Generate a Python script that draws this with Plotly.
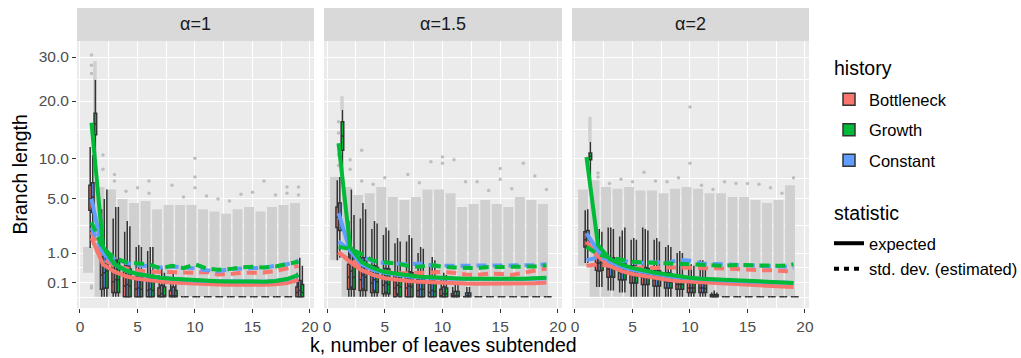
import numpy as np
import plotly.graph_objects as go

# ---------------- data ----------------
K = list(range(1, 20))
facet_labels = ["α=1", "α=1.5", "α=2"]
histories = ["Bottleneck", "Constant", "Growth"]          # dodge / drawing order
legend_order = ["Bottleneck", "Growth", "Constant"]        # legend order
hist_colors = ["#F8766D", "#619CFF", "#00BA38"]
y_tick_vals = [0.1, 1.0, 5.0, 10.0, 20.0, 30.0]
y_tick_text = ["0.1", "1.0", "5.0", "10.0", "20.0", "30.0"]
x_tick_vals = [0, 5, 10, 15, 20]
x_minor_vals = [2.5, 7.5, 12.5, 17.5]

# ---- panel alpha = 1 : boxplot statistics (branch length units) ----
bott1_lo  = [1.24, 0, 0, 0, 0, 0, 0, 0, 0, 0, 0, 0, 0, 0, 0, 0, 0, 0, 0]
bott1_q1  = [3.9, 0.03, 0.01, 0, 0, 0, 0, 0, 0, 0, 0, 0, 0, 0, 0, 0, 0, 0, 0]
bott1_med = [5.0, 0.25, 0.12, 0.06, 0.03, 0.02, 0, 0, 0, 0, 0, 0, 0, 0, 0, 0, 0, 0, 0.01]
bott1_q3  = [6.5, 0.8, 0.55, 0.35, 0.2, 0.18, 0.04, 0.02, 0, 0, 0, 0, 0, 0, 0, 0, 0, 0, 0.05]
bott1_hi  = [11.7, 4.0, 3.2, 2.2, 1.3, 1.1, 0.25, 0.12, 0, 0, 0, 0, 0, 0, 0, 0, 0, 0, 0.3]
cons1_lo  = [1.4, 0, 0, 0, 0, 0, 0, 0, 0, 0, 0, 0, 0, 0, 0, 0, 0, 0, 0]
cons1_q1  = [3.7, 0.04, 0.01, 0, 0, 0, 0, 0, 0, 0, 0, 0, 0, 0, 0, 0, 0, 0, 0]
cons1_med = [5.2, 0.3, 0.15, 0.08, 0.04, 0.03, 0.005, 0, 0, 0, 0, 0, 0, 0, 0, 0, 0, 0, 0.02]
cons1_q3  = [6.8, 1.0, 0.7, 0.5, 0.25, 0.22, 0.07, 0.05, 0, 0, 0, 0, 0, 0, 0, 0, 0, 0, 0.14]
cons1_hi  = [10.5, 5.0, 4.2, 3.0, 1.4, 1.3, 0.45, 0.3, 0, 0, 0, 0, 0, 0, 0, 0, 0, 0, 0.8]
grow1_lo  = [10.2, 0, 0, 0, 0, 0, 0, 0, 0, 0, 0, 0, 0, 0, 0, 0, 0, 0, 0]
grow1_q1  = [13.7, 0.04, 0.01, 0, 0, 0, 0, 0, 0, 0, 0, 0, 0, 0, 0, 0, 0, 0, 0]
grow1_med = [15.6, 0.35, 0.15, 0.06, 0.03, 0.02, 0, 0, 0, 0, 0, 0, 0, 0, 0, 0, 0, 0, 0.01]
grow1_q3  = [17.6, 1.1, 0.7, 0.4, 0.2, 0.2, 0.05, 0.02, 0, 0, 0, 0, 0, 0, 0, 0, 0, 0, 0.08]
grow1_hi  = [24.5, 6.0, 4.2, 2.6, 1.3, 1.3, 0.3, 0.15, 0, 0, 0, 0, 0, 0, 0, 0, 0, 0, 0.5]
# expected and estimated std. dev.
bott1_exp = [1.8, 0.55, 0.33, 0.22, 0.17, 0.14, 0.12, 0.105, 0.095, 0.088, 0.082, 0.078, 0.075, 0.073, 0.073, 0.075, 0.082, 0.1, 0.15]
cons1_exp = [5.0, 1.0, 0.55, 0.36, 0.27, 0.22, 0.19, 0.17, 0.15, 0.14, 0.13, 0.125, 0.12, 0.115, 0.115, 0.12, 0.13, 0.16, 0.24]
grow1_exp = [15.8, 1.3, 0.55, 0.36, 0.27, 0.22, 0.19, 0.17, 0.155, 0.145, 0.135, 0.128, 0.122, 0.118, 0.117, 0.12, 0.132, 0.165, 0.25]
bott1_sd  = [2.2, 0.75, 0.5, 0.42, 0.36, 0.33, 0.32, 0.3, 0.31, 0.3, 0.32, 0.26, 0.27, 0.3, 0.3, 0.31, 0.35, 0.42, 0.5]
cons1_sd  = [2.5, 1.0, 0.75, 0.6, 0.52, 0.48, 0.45, 0.48, 0.46, 0.42, 0.37, 0.34, 0.4, 0.42, 0.43, 0.44, 0.5, 0.55, 0.68]
grow1_sd  = [2.9, 1.2, 0.8, 0.62, 0.58, 0.55, 0.42, 0.5, 0.43, 0.55, 0.42, 0.38, 0.4, 0.45, 0.47, 0.45, 0.48, 0.57, 0.64]
# outlier clouds (dense ranges), growth-only clouds at k=1, and isolated outliers
cloud1_k  = [1, 2, 3, 4, 5, 6, 7, 8, 9, 10, 11, 12, 13, 14, 15, 16, 17, 18, 19]
cloud1_lo = [0.3, 0, 0, 0, 0, 0, 0, 0, 0, 0, 0, 0, 0, 0, 0, 0, 0, 0, 0]
cloud1_hi = [1.3, 6.3, 6.0, 5.0, 4.6, 4.8, 4.0, 4.4, 4.4, 4.4, 4.0, 3.8, 3.6, 4.0, 4.2, 3.8, 4.2, 4.4, 4.6]
gcloud1_k, gcloud1_lo, gcloud1_hi = [1], [16.0], [29.0]
out1_k = [1, 1, 1, 1, 1, 2, 2, 3, 3, 4, 5, 6, 6, 8, 9, 10, 10, 10, 11, 12, 13, 14, 15, 16, 17, 18, 18, 19, 19]
out1_v = [30.5, 28.0, 26.0, 0.06, 0.04, 10.5, 8.5, 7.8, 7.0, 5.8, 6.2, 7.0, 5.6, 6.5, 5.2, 10.0, 7.5, 6.2, 5.3, 5.0, 4.8, 5.5, 5.7, 7.0, 5.4, 6.3, 5.6, 6.3, 5.4]

# ---- panel alpha = 1.5 ----
bott2_lo  = [0.7, 0, 0, 0, 0, 0, 0, 0, 0, 0, 0, 0, 0, 0, 0, 0, 0, 0, 0]
bott2_q1  = [2.5, 0.03, 0.02, 0.01, 0.005, 0, 0, 0, 0, 0, 0, 0, 0, 0, 0, 0, 0, 0, 0]
bott2_med = [3.3, 0.2, 0.15, 0.1, 0.07, 0.04, 0.04, 0.02, 0.01, 0, 0, 0, 0, 0, 0, 0, 0, 0, 0]
bott2_q3  = [4.2, 0.55, 0.55, 0.4, 0.35, 0.25, 0.27, 0.15, 0.09, 0.03, 0.005, 0, 0, 0, 0, 0, 0, 0, 0]
bott2_hi  = [7.1, 3.0, 3.2, 2.4, 2.0, 1.5, 1.6, 1.0, 0.6, 0.2, 0.05, 0, 0, 0, 0, 0, 0, 0, 0]
cons2_lo  = [0.8, 0, 0, 0, 0, 0, 0, 0, 0, 0, 0, 0, 0, 0, 0, 0, 0, 0, 0]
cons2_q1  = [2.3, 0.05, 0.03, 0.02, 0.01, 0.005, 0, 0, 0, 0, 0, 0, 0, 0, 0, 0, 0, 0, 0]
cons2_med = [3.4, 0.35, 0.25, 0.15, 0.1, 0.07, 0.06, 0.03, 0.02, 0.005, 0, 0, 0, 0, 0, 0, 0, 0, 0]
cons2_q3  = [4.6, 1.0, 0.8, 0.5, 0.42, 0.3, 0.33, 0.2, 0.13, 0.05, 0.015, 0.008, 0, 0, 0, 0, 0, 0, 0]
cons2_hi  = [7.5, 6.0, 4.6, 3.0, 2.5, 1.8, 2.0, 1.3, 0.83, 0.3, 0.1, 0.05, 0, 0, 0, 0, 0, 0, 0]
grow2_lo  = [7.0, 0, 0, 0, 0, 0, 0, 0, 0, 0, 0, 0, 0, 0, 0, 0, 0, 0, 0]
grow2_q1  = [11.2, 0.03, 0.02, 0.01, 0.005, 0, 0, 0, 0, 0, 0, 0, 0, 0, 0, 0, 0, 0, 0]
grow2_med = [13.5, 0.2, 0.2, 0.12, 0.08, 0.05, 0.05, 0.03, 0.015, 0.005, 0, 0, 0, 0, 0, 0, 0, 0, 0]
grow2_q3  = [16.0, 0.6, 0.7, 0.45, 0.4, 0.27, 0.3, 0.18, 0.11, 0.04, 0.015, 0.008, 0, 0, 0, 0, 0, 0, 0]
grow2_hi  = [18.2, 3.5, 4.0, 2.8, 2.3, 1.6, 1.8, 1.2, 0.7, 0.25, 0.1, 0.05, 0, 0, 0, 0, 0, 0, 0]
bott2_exp = [1.05, 0.63, 0.37, 0.25, 0.18, 0.15, 0.13, 0.12, 0.11, 0.1, 0.095, 0.092, 0.09, 0.09, 0.09, 0.09, 0.092, 0.097, 0.105]
cons2_exp = [3.65, 1.1, 0.55, 0.38, 0.3, 0.25, 0.22, 0.2, 0.185, 0.175, 0.168, 0.163, 0.16, 0.158, 0.158, 0.16, 0.163, 0.17, 0.18]
grow2_exp = [12.3, 1.3, 0.63, 0.43, 0.32, 0.27, 0.24, 0.21, 0.195, 0.185, 0.178, 0.172, 0.168, 0.165, 0.165, 0.166, 0.17, 0.178, 0.19]
bott2_sd  = [1.0, 0.7, 0.5, 0.38, 0.33, 0.29, 0.29, 0.3, 0.29, 0.32, 0.3, 0.26, 0.25, 0.28, 0.27, 0.25, 0.3, 0.35, 0.42]
cons2_sd  = [1.6, 1.1, 0.85, 0.65, 0.6, 0.56, 0.55, 0.58, 0.52, 0.5, 0.5, 0.5, 0.5, 0.5, 0.52, 0.5, 0.5, 0.52, 0.55]
grow2_sd  = [1.3, 1.2, 0.95, 0.68, 0.62, 0.58, 0.5, 0.47, 0.53, 0.47, 0.45, 0.43, 0.43, 0.46, 0.46, 0.45, 0.45, 0.48, 0.52]
cloud2_k  = [1, 2, 3, 4, 5, 6, 7, 8, 9, 10, 11, 12, 13, 14, 15, 16, 17, 18, 19]
cloud2_lo = [0.7, 0, 0, 0, 0, 0, 0, 0, 0, 0, 0, 0, 0, 0, 0, 0, 0, 0, 0]
cloud2_hi = [7.5, 6.3, 5.4, 5.6, 6.3, 5.2, 4.9, 5.2, 6.0, 6.0, 5.6, 4.2, 4.5, 4.9, 4.5, 4.2, 5.2, 4.9, 4.5]
gcloud2_k, gcloud2_lo, gcloud2_hi = [1], [18.2], [21.0]
out2_k = [1, 1, 1, 1, 1, 2, 2, 3, 3, 4, 5, 7, 8, 9, 10, 10, 11, 12, 13, 14, 15, 15, 16, 17, 18, 19]
out2_v = [9.0, 10.5, 12.0, 14.0, 16.0, 9.8, 8.5, 11.2, 7.0, 6.6, 7.4, 7.8, 6.8, 9.5, 10.2, 9.3, 9.8, 6.9, 6.9, 5.9, 8.6, 7.2, 6.1, 9.3, 7.6, 6.0]

# ---- panel alpha = 2 ----
bott3_lo  = [0.6, 0.05, 0.02, 0.01, 0, 0, 0, 0, 0, 0, 0, 0, 0, 0, 0, 0, 0, 0, 0]
bott3_q1  = [1.3, 0.37, 0.2, 0.15, 0.1, 0.08, 0.06, 0.04, 0.03, 0.01, 0.01, 0, 0, 0, 0, 0, 0, 0, 0]
bott3_med = [1.7, 0.6, 0.4, 0.3, 0.25, 0.2, 0.15, 0.12, 0.08, 0.04, 0.04, 0, 0, 0, 0, 0, 0, 0, 0]
bott3_q3  = [2.2, 1.0, 0.83, 0.6, 0.5, 0.45, 0.35, 0.3, 0.2, 0.1, 0.12, 0.002, 0, 0, 0, 0, 0, 0, 0]
bott3_hi  = [3.9, 2.3, 2.5, 1.9, 1.7, 2.5, 1.7, 1.3, 1.0, 0.5, 0.7, 0.01, 0, 0, 0, 0, 0, 0, 0]
cons3_lo  = [0.6, 0.05, 0.02, 0.01, 0, 0, 0, 0, 0, 0, 0, 0, 0, 0, 0, 0, 0, 0, 0]
cons3_q1  = [1.35, 0.35, 0.22, 0.15, 0.1, 0.08, 0.06, 0.04, 0.03, 0.01, 0.01, 0, 0, 0, 0, 0, 0, 0, 0]
cons3_med = [1.8, 0.6, 0.45, 0.32, 0.25, 0.2, 0.16, 0.12, 0.08, 0.04, 0.04, 0, 0, 0, 0, 0, 0, 0, 0]
cons3_q3  = [2.3, 1.0, 0.8, 0.65, 0.5, 0.45, 0.38, 0.3, 0.22, 0.12, 0.12, 0.003, 0, 0, 0, 0, 0, 0, 0]
cons3_hi  = [4.0, 2.4, 2.5, 2.3, 1.8, 2.4, 1.8, 1.4, 1.1, 0.55, 0.7, 0.02, 0, 0, 0, 0, 0, 0, 0]
grow3_lo  = [6.3, 0.05, 0.02, 0.01, 0, 0, 0, 0, 0, 0, 0, 0, 0, 0, 0, 0, 0, 0, 0]
grow3_q1  = [9.8, 0.37, 0.2, 0.15, 0.1, 0.08, 0.06, 0.04, 0.03, 0.01, 0.01, 0, 0, 0, 0, 0, 0, 0, 0]
grow3_med = [10.3, 0.62, 0.42, 0.3, 0.22, 0.18, 0.15, 0.11, 0.08, 0.04, 0.035, 0, 0, 0, 0, 0, 0, 0, 0]
grow3_q3  = [10.8, 1.0, 0.8, 0.6, 0.45, 0.42, 0.35, 0.28, 0.2, 0.1, 0.1, 0.002, 0, 0, 0, 0, 0, 0, 0]
grow3_hi  = [12.5, 2.2, 2.4, 2.5, 1.7, 2.3, 1.6, 1.3, 1.0, 0.5, 0.6, 0.01, 0, 0, 0, 0, 0, 0, 0]
bott3_exp = [1.58, 0.85, 0.5, 0.35, 0.27, 0.22, 0.18, 0.15, 0.13, 0.12, 0.1, 0.09, 0.08, 0.075, 0.07, 0.065, 0.06, 0.055, 0.05]
cons3_exp = [2.1, 1.1, 0.65, 0.48, 0.38, 0.32, 0.27, 0.23, 0.2, 0.18, 0.16, 0.15, 0.14, 0.13, 0.12, 0.115, 0.11, 0.105, 0.1]
grow3_exp = [10.2, 1.4, 0.75, 0.55, 0.43, 0.35, 0.3, 0.26, 0.22, 0.19, 0.17, 0.16, 0.15, 0.14, 0.13, 0.12, 0.115, 0.11, 0.1]
bott3_sd  = [0.5, 0.55, 0.5, 0.45, 0.43, 0.45, 0.43, 0.45, 0.45, 0.45, 0.42, 0.42, 0.42, 0.4, 0.38, 0.37, 0.37, 0.35, 0.33]
cons3_sd  = [0.7, 0.8, 0.75, 0.68, 0.62, 0.6, 0.62, 0.58, 0.72, 0.68, 0.58, 0.56, 0.55, 0.56, 0.52, 0.5, 0.5, 0.48, 0.45]
grow3_sd  = [1.3, 0.95, 0.8, 0.7, 0.64, 0.62, 0.6, 0.58, 0.58, 0.55, 0.53, 0.5, 0.5, 0.53, 0.52, 0.5, 0.5, 0.5, 0.55]
cloud3_k  = [1, 2, 3, 4, 5, 6, 7, 8, 9, 10, 11, 12, 13, 14, 15, 16, 17, 18, 19]
cloud3_lo = [0.5, 0, 0, 0, 0, 0, 0, 0, 0, 0, 0, 0, 0, 0, 0, 0, 0, 0, 0]
cloud3_hi = [6.0, 7.1, 6.3, 6.1, 6.3, 5.9, 5.9, 5.6, 6.1, 6.3, 6.1, 5.6, 5.6, 5.2, 5.2, 4.9, 4.6, 4.9, 6.5]
gcloud3_k, gcloud3_lo, gcloud3_hi = [1], [12.5], [16.9]
out3_k = [2, 2, 3, 4, 5, 6, 7, 8, 9, 10, 10, 11, 12, 13, 14, 15, 16, 17, 18, 19]
out3_v = [8.0, 7.5, 6.7, 7.2, 6.9, 8.1, 7.0, 6.9, 7.4, 18.8, 9.3, 6.5, 6.0, 6.9, 6.7, 6.7, 6.6, 6.2, 5.6, 7.4]

# ---------------- assemble ----------------
panels = [
    dict(box={"Bottleneck": (bott1_lo, bott1_q1, bott1_med, bott1_q3, bott1_hi),
              "Constant": (cons1_lo, cons1_q1, cons1_med, cons1_q3, cons1_hi),
              "Growth": (grow1_lo, grow1_q1, grow1_med, grow1_q3, grow1_hi)},
         exp={"Bottleneck": bott1_exp, "Constant": cons1_exp, "Growth": grow1_exp},
         sd={"Bottleneck": bott1_sd, "Constant": cons1_sd, "Growth": grow1_sd},
         cloud=(cloud1_k, cloud1_lo, cloud1_hi), gcloud=(gcloud1_k, gcloud1_lo, gcloud1_hi),
         out=(out1_k, out1_v)),
    dict(box={"Bottleneck": (bott2_lo, bott2_q1, bott2_med, bott2_q3, bott2_hi),
              "Constant": (cons2_lo, cons2_q1, cons2_med, cons2_q3, cons2_hi),
              "Growth": (grow2_lo, grow2_q1, grow2_med, grow2_q3, grow2_hi)},
         exp={"Bottleneck": bott2_exp, "Constant": cons2_exp, "Growth": grow2_exp},
         sd={"Bottleneck": bott2_sd, "Constant": cons2_sd, "Growth": grow2_sd},
         cloud=(cloud2_k, cloud2_lo, cloud2_hi), gcloud=(gcloud2_k, gcloud2_lo, gcloud2_hi),
         out=(out2_k, out2_v)),
    dict(box={"Bottleneck": (bott3_lo, bott3_q1, bott3_med, bott3_q3, bott3_hi),
              "Constant": (cons3_lo, cons3_q1, cons3_med, cons3_q3, cons3_hi),
              "Growth": (grow3_lo, grow3_q1, grow3_med, grow3_q3, grow3_hi)},
         exp={"Bottleneck": bott3_exp, "Constant": cons3_exp, "Growth": grow3_exp},
         sd={"Bottleneck": bott3_sd, "Constant": cons3_sd, "Growth": grow3_sd},
         cloud=(cloud3_k, cloud3_lo, cloud3_hi), gcloud=(gcloud3_k, gcloud3_lo, gcloud3_hi),
         out=(out3_k, out3_v)),
]
color_of = dict(zip(histories, hist_colors))
sq = lambda v: np.sqrt(np.asarray(v, dtype=float))

W, H = 1021, 358
ML, MR, MT, MB = 77, 212, 8, 50
pw = W - ML - MR
ph = H - MT - MB
domains = [[0, 237 / pw], [247 / pw, 485 / pw], [495 / pw, 1.0]]
panel_top = (308 - 41) / ph
FONT = "Liberation Sans, Arial, Helvetica, sans-serif"
CLOUD = "rgb(208,208,208)"

fig = go.Figure()
for i, p in enumerate(panels):
    xa = "x" if i == 0 else f"x{i+1}"
    ya = "y" if i == 0 else f"y{i+1}"
    ck, clo, chi = p["cloud"]
    fig.add_trace(go.Bar(x=ck, base=sq(clo), y=sq(chi) - sq(clo), width=0.86,
                         marker=dict(color=CLOUD, line=dict(width=0)),
                         showlegend=False, hoverinfo="skip", xaxis=xa, yaxis=ya))
    gk, glo, ghi = p["gcloud"]
    fig.add_trace(go.Bar(x=gk, base=sq(glo), y=sq(ghi) - sq(glo), width=0.3, offset=0.15,
                         marker=dict(color=CLOUD, line=dict(width=0)),
                         showlegend=False, hoverinfo="skip", xaxis=xa, yaxis=ya))
    ok, ov = p["out"]
    fig.add_trace(go.Scatter(x=ok, y=sq(ov), mode="markers",
                             marker=dict(color="rgb(190,190,190)", size=3.5),
                             showlegend=False, hoverinfo="skip", xaxis=xa, yaxis=ya))
    for h in histories:
        lo, q1, med, q3, hi = p["box"][h]
        fig.add_trace(go.Box(x=K, lowerfence=sq(lo), q1=sq(q1), median=sq(med), q3=sq(q3),
                             upperfence=sq(hi), name=h, offsetgroup=h,
                             fillcolor=color_of[h], line=dict(color="#333333", width=1.5),
                             whiskerwidth=0, boxpoints=False,
                             legendgroup=h, legend="legend",
                             legendrank=legend_order.index(h) + 1,
                             showlegend=(i == 0), xaxis=xa, yaxis=ya))
    for h in histories:
        fig.add_trace(go.Scatter(x=K, y=sq(p["exp"][h]), mode="lines",
                                 line=dict(color=color_of[h], width=4),
                                 showlegend=False, hoverinfo="skip", xaxis=xa, yaxis=ya))
        fig.add_trace(go.Scatter(x=K, y=sq(p["sd"][h]), mode="lines",
                                 line=dict(color=color_of[h], width=4, dash="10px,6px"),
                                 showlegend=False, hoverinfo="skip", xaxis=xa, yaxis=ya))

for name, dash in [("expected", "solid"), ("std. dev. (estimated)", "5px,5px")]:
    fig.add_trace(go.Scatter(x=[None], y=[None], mode="lines", name=name,
                             line=dict(color="black", width=4, dash=dash),
                             legend="legend2", legendgroup=name, showlegend=True))

y_minor = [-0.026, 0.658, 1.618, 2.699, 3.817, 4.975]
tick_font = dict(family=FONT, size=15.5, color="#4D4D4D")
title_font = dict(family=FONT, size=19.5, color="black")
yrange = [-0.256, 5.843]

fig.update_layout(
    width=W, height=H, margin=dict(l=ML, r=MR, t=MT, b=MB, autoexpand=False),
    paper_bgcolor="white", plot_bgcolor="#EBEBEB",
    boxmode="group", boxgap=0.1, boxgroupgap=0, barmode="overlay",
    font=dict(family=FONT, color="black"),
    showlegend=True,
    legend=dict(font=dict(size=16.5), xref="container", yref="container",
                x=829 / W, y=1 - 82 / H, xanchor="left", yanchor="top",
                tracegroupgap=6, itemwidth=30, bgcolor="rgba(0,0,0,0)"),
    legend2=dict(font=dict(size=16.5), xref="container", yref="container",
                 x=829 / W, y=1 - 226 / H, xanchor="left", yanchor="top",
                 tracegroupgap=1, itemwidth=30, bgcolor="rgba(0,0,0,0)"),
)

for i in range(3):
    xk = "xaxis" if i == 0 else f"xaxis{i+1}"
    yk = "yaxis" if i == 0 else f"yaxis{i+1}"
    fig.update_layout({
        xk: dict(domain=domains[i], range=[-0.26, 20.35], tickvals=x_tick_vals,
                 ticktext=[str(v) for v in x_tick_vals], ticks="outside", ticklen=4,
                 tickcolor="#333333", tickwidth=1, tickfont=tick_font, automargin=False,
                 showgrid=True, gridcolor="white", gridwidth=1.3, zeroline=False,
                 showline=False, anchor="y" if i == 0 else f"y{i+1}",
                 minor=dict(tickvals=x_minor_vals, showgrid=True, gridcolor="white",
                            gridwidth=0.6, ticks="")),
        yk: dict(domain=[0, panel_top], range=yrange, tickvals=list(sq(y_tick_vals)),
                 ticktext=y_tick_text, ticks="outside" if i == 0 else "",
                 ticklen=4, tickcolor="#333333", tickwidth=1, tickfont=tick_font,
                 showticklabels=(i == 0), showgrid=True, gridcolor="white", automargin=False,
                 gridwidth=1.3, zeroline=False, showline=False,
                 anchor="x" if i == 0 else f"x{i+1}",
                 minor=dict(tickvals=y_minor, showgrid=True, gridcolor="white",
                            gridwidth=0.6, ticks="")),
    })

# axis titles
fig.add_annotation(text="Branch length", xref="paper", yref="paper",
                   x=(20 - ML) / pw, y=panel_top / 2, textangle=-90, showarrow=False,
                   xanchor="center", yanchor="middle", font=title_font)
fig.add_annotation(text="k, number of leaves subtended", xref="paper", yref="paper",
                   x=(domains[1][0] + domains[1][1]) / 2, y=(308 - 345) / ph, showarrow=False,
                   xanchor="center", yanchor="middle", font=title_font)
# legend titles
for txt, ypix in [("history", 68), ("statistic", 213)]:
    fig.add_annotation(text=txt, xref="paper", yref="paper",
                       x=(832 - ML) / pw, y=(308 - ypix) / ph, showarrow=False,
                       xanchor="left", yanchor="middle", font=title_font)

for i, lab in enumerate(facet_labels):
    fig.add_shape(type="rect", xref="paper", yref="paper", x0=domains[i][0], x1=domains[i][1],
                  y0=panel_top, y1=1.0, fillcolor="#D9D9D9", line=dict(width=0), layer="below")
    fig.add_annotation(text=lab, xref="paper", yref="paper",
                       x=(domains[i][0] + domains[i][1]) / 2, y=(panel_top + 1) / 2,
                       showarrow=False, xanchor="center", yanchor="middle",
                       font=dict(family=FONT, size=18, color="#1A1A1A"))

fig.write_html("out.html", config={"displayModeBar": False},
               post_script="document.body.style.margin='0';document.body.style.padding='0';")
